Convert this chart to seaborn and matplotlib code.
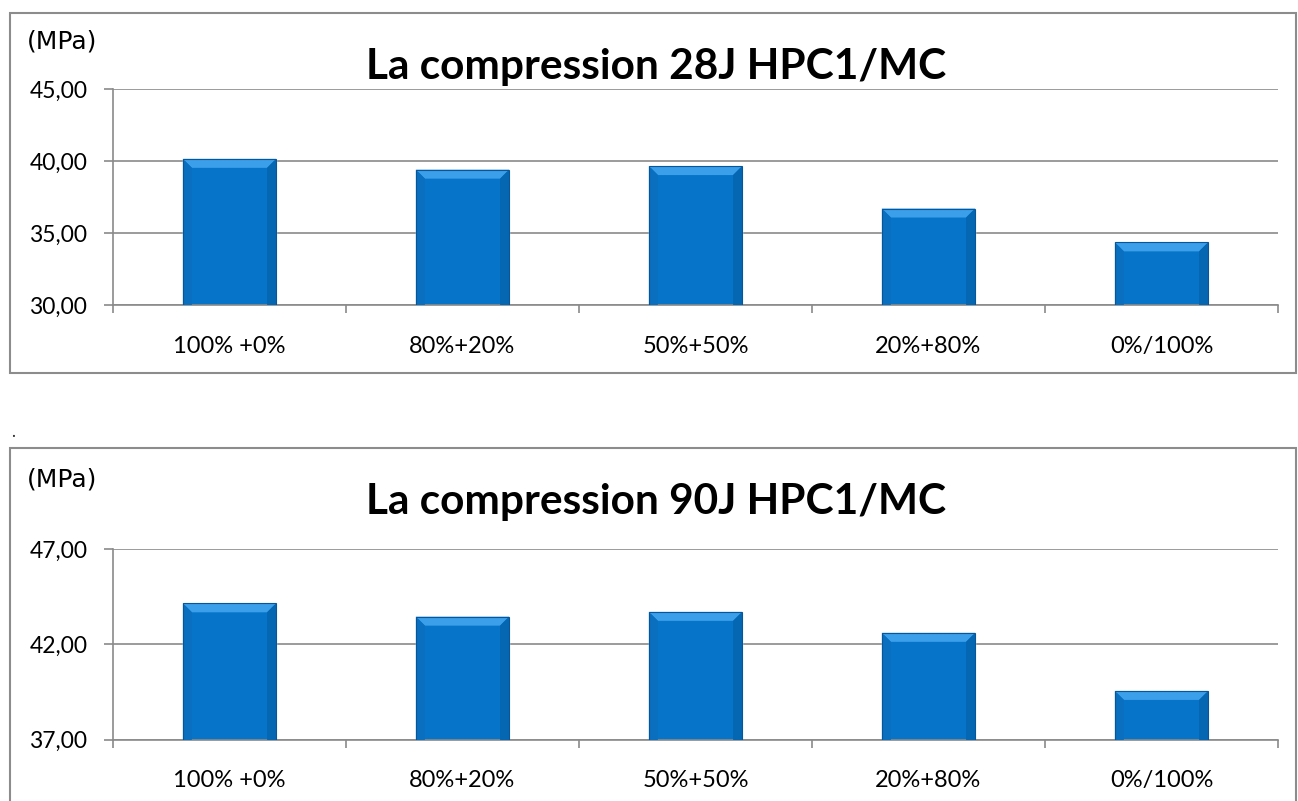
import numpy as np
import matplotlib
matplotlib.use("Agg")
import matplotlib.pyplot as plt
from matplotlib.patches import Rectangle, Polygon
from matplotlib.ticker import FuncFormatter, FixedLocator
import seaborn as sns

mixes = ["100% +0%", "80%+20%", "50%+50%", "20%+80%", "0%/100%"]
comp_28j = [40.15, 39.40, 39.65, 36.70, 34.35]
comp_90j = [44.15, 43.45, 43.70, 42.60, 39.55]

title_28j = "La compression 28J HPC1/MC"
title_90j = "La compression 90J HPC1/MC"
unit_label = "(MPa)"

sns.set_style("white")
plt.rcParams["font.family"] = ["Lato", "DejaVu Sans"]

W, H = 1298, 801
fig = plt.figure(figsize=(W / 100, H / 100), dpi=100)

BLUE = "#0675C9"
GRID = "#8a8a8a"


def fx(px):
    return px / W


def fy(py):
    return 1 - py / H


def bevel(ax, b=9):
    # Excel-like bevelled look drawn over each seaborn bar
    for p in ax.patches:
        x, y = p.get_x(), p.get_y()
        w, h = p.get_width(), p.get_height()
        (x0, y0), (x1, y1) = ax.transData.transform([(x, y), (x + w, y + h)])
        bb = min(b, (y1 - y0) / 3)
        shapes = [
            ([(x0, y1), (x1, y1), (x1 - bb, y1 - bb), (x0 + bb, y1 - bb)], "#3c9fea"),
            ([(x0, y0), (x1, y0), (x1 - bb, y0 + bb), (x0 + bb, y0 + bb)], "#0562a9"),
            ([(x0, y0), (x0 + bb, y0 + bb), (x0 + bb, y1 - bb), (x0, y1)], "#0a6fbf"),
            ([(x1, y0), (x1 - bb, y0 + bb), (x1 - bb, y1 - bb), (x1, y1)], "#0566b2"),
        ]
        for pts, col in shapes:
            data_pts = ax.transData.inverted().transform(pts)
            ax.add_patch(Polygon(data_pts, closed=True, facecolor=col,
                                 edgecolor="none", zorder=3))
        ax.add_patch(Polygon(ax.transData.inverted().transform(
            [(x0, y0), (x1, y0), (x1, y1), (x0, y1)]), closed=True,
            facecolor="none", edgecolor="#05569a", lw=0.8, zorder=4))


def panel(top_px, bottom_px, values, ylim, yticks):
    ax = fig.add_axes([fx(113), fy(bottom_px), fx(1278) - fx(113),
                       fy(top_px) - fy(bottom_px)])
    sns.barplot(x=mixes, y=values, color=BLUE, width=0.4, saturation=1,
                ax=ax, zorder=2)
    ax.set_xlim(-0.5, len(mixes) - 0.5)
    ax.set_ylim(*ylim)
    ax.set_yticks(yticks)
    ax.yaxis.set_major_formatter(
        FuncFormatter(lambda v, _: f"{v:.2f}".replace(".", ",")))
    ax.grid(axis="y", color=GRID, lw=1.2, zorder=0)
    ax.set_axisbelow(True)
    for s in ["top", "right"]:
        ax.spines[s].set_visible(False)
    for s in ["left", "bottom"]:
        ax.spines[s].set_color(GRID)
        ax.spines[s].set_linewidth(1.2)
    ax.xaxis.set_minor_locator(FixedLocator(np.arange(-0.5, len(mixes), 1.0)))
    ax.tick_params(axis="x", which="major", length=0, pad=22, labelsize=17,
                   labelcolor="black")
    ax.tick_params(axis="x", which="minor", length=6, width=1.2, color=GRID,
                   direction="out", bottom=True)
    ax.tick_params(axis="y", length=6.5, width=1.2, color=GRID, pad=12,
                   labelsize=16.5, labelcolor="black", left=True)
    ax.set_xlabel("")
    ax.set_ylabel("")
    bevel(ax)
    return ax


panel(89, 305, comp_28j, (30, 45), [30, 35, 40, 45])
panel(549, 739.5, comp_90j, (37, 47), [37, 42, 47])

# chart frames
fig.patches.append(Rectangle((fx(10), fy(373)), fx(1296) - fx(10),
                             fy(13) - fy(373), transform=fig.transFigure,
                             fill=False, edgecolor="#8c8c8c", lw=1.5))
fig.patches.append(Rectangle((fx(10), -0.02), fx(1296) - fx(10),
                             fy(448) + 0.02, transform=fig.transFigure,
                             fill=False, edgecolor="#8c8c8c", lw=1.5))

for y_title, y_unit, txt in [(79, 42, title_28j), (514, 480, title_90j)]:
    fig.text(fx(656), fy(y_title), txt, ha="center", va="baseline",
             fontsize=30.5, fontweight="bold", color="black")
    fig.text(fx(27), fy(y_unit), unit_label, ha="left", va="center",
             fontsize=18, family="DejaVu Sans", color="black")

fig.text(fx(11), fy(432), ".", ha="left", va="center", fontsize=12)

fig.savefig("out.png", dpi=100, facecolor="white")
